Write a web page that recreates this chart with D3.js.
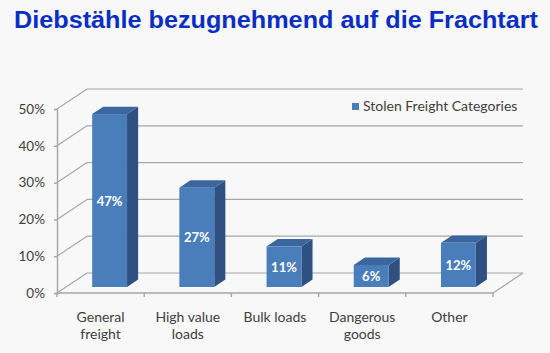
<!DOCTYPE html>
<html lang="de">

<head>
	<title>Diebstähle bezugnehmend auf die Frachtart</title>
	<meta charset="utf-8">
	<script src="https://d3js.org/d3.v7.min.js"></script>
	<style>
		body { margin: 0; background: #f8f8f8; }
		svg { display: block; }
	</style>
</head>

<body>
	<div id="container1"></div>
	<script>
		// Data
		const categories = ["General freight", "High value loads", "Bulk loads", "Dangerous goods", "Other"];
		const categoryLines = [["General", "freight"], ["High value", "loads"], ["Bulk loads"], ["Dangerous", "goods"], ["Other"]];
		const values = [47, 27, 11, 6, 12];
		const yTicks = [0, 10, 20, 30, 40, 50];
		const seriesName = "Stolen Freight Categories";

		// Chart dimensions
		const width = 550;
		const height = 353;
		const depth = { dx: 30, dy: -20 };
		const barStart = 0.3, barDepth = 0.37;

		const svg = d3.select("#container1")
			.append("svg")
			.attr("width", width)
			.attr("height", height);

		svg.append("rect").attr("width", width).attr("height", height).attr("fill", "#f8f8f8");

		// Title
		svg.append("text")
			.attr("x", 14)
			.attr("y", 28)
			.attr("textLength", 524)
			.attr("lengthAdjust", "spacingAndGlyphs")
			.style("font-family", "'Liberation Sans', Arial, sans-serif")
			.style("font-weight", "bold")
			.style("font-size", "23px")
			.attr("fill", "#0a2ec4")
			.text("Diebstähle bezugnehmend auf die Frachtart");

		// Scales
		const xScale = d3.scaleBand()
			.domain(categories)
			.range([57, 493]);

		const yScale = d3.scaleLinear()
			.domain([0, 50])
			.range([293, 109]);

		const grid = "#a6a6a6";
		const x0 = xScale.range()[0], x1 = xScale.range()[1];

		// Back wall gridlines and left wall diagonals
		svg.append("g")
			.selectAll("line.back")
			.data(yTicks)
			.join("line")
			.attr("x1", x0 + depth.dx)
			.attr("x2", x1 + depth.dx)
			.attr("y1", d => yScale(d) + depth.dy)
			.attr("y2", d => yScale(d) + depth.dy)
			.attr("stroke", grid)
			.attr("stroke-width", 1.2);

		svg.append("g")
			.selectAll("line")
			.data(yTicks)
			.join("line")
			.attr("x1", x0)
			.attr("x2", x0 + depth.dx)
			.attr("y1", d => yScale(d))
			.attr("y2", d => yScale(d) + depth.dy)
			.attr("stroke", grid)
			.attr("stroke-width", 1.2);

		// Floor right edge
		svg.append("line")
			.attr("x1", x1).attr("y1", yScale(0))
			.attr("x2", x1 + depth.dx).attr("y2", yScale(0) + depth.dy)
			.attr("stroke", grid).attr("stroke-width", 1.2);

		// Axes
		svg.append("g")
			.attr("transform", `translate(${x0},0)`)
			.call(d3.axisLeft(yScale).tickValues(yTicks).tickSize(3).tickPadding(9).tickFormat(d => d + "%"))
			.call(g => g.selectAll(".domain, .tick line").attr("stroke", grid).attr("stroke-width", 1.4))
			.call(g => g.selectAll(".tick text")
				.attr("fill", "#404040")
				.style("font-family", "Lato, sans-serif")
				.style("font-size", "13.5px"));

		const xAxis = svg.append("g")
			.attr("transform", `translate(0,${yScale(0)})`)
			.call(d3.axisBottom(xScale).tickSize(4).tickFormat(""));
		xAxis.selectAll(".domain").attr("stroke", grid).attr("stroke-width", 1.4).attr("d", `M${x0},0H${x1}`);
		xAxis.selectAll(".tick").remove();
		xAxis.selectAll("line.sep")
			.data(d3.range(categories.length + 1))
			.join("line")
			.attr("x1", i => x0 + i * xScale.step())
			.attr("x2", i => x0 + i * xScale.step())
			.attr("y1", 0)
			.attr("y2", 4)
			.attr("stroke", grid)
			.attr("stroke-width", 1.4);

		// Category labels
		svg.append("g")
			.selectAll("text")
			.data(categories)
			.join("text")
			.attr("x", d => xScale(d) + xScale.bandwidth() / 2)
			.attr("y", 322)
			.attr("text-anchor", "middle")
			.attr("fill", "#404040")
			.style("font-family", "Lato, sans-serif")
			.style("font-size", "14px")
			.selectAll("tspan")
			.data((d, i) => categoryLines[i])
			.join("tspan")
			.attr("x", function () { return this.parentNode.getAttribute("x"); })
			.attr("dy", (d, i) => i === 0 ? 0 : 17)
			.text(d => d);

		// Bars
		const bw = xScale.bandwidth() * 0.4;
		const off = { x: depth.dx * barStart, y: depth.dy * barStart };
		const bd = { x: depth.dx * barDepth, y: depth.dy * barDepth };

		const bars = svg.append("g")
			.selectAll("g")
			.data(values.map((v, i) => ({ name: categories[i], value: v })))
			.join("g")
			.attr("transform", d => `translate(${xScale(d.name) + xScale.bandwidth() / 2 - bw / 2 + off.x},${off.y})`);

		// side
		bars.append("path")
			.attr("fill", "#2f5080")
			.attr("d", d => {
				const t = yScale(d.value), b = yScale(0);
				return `M${bw},${b}L${bw + bd.x},${b + bd.y}L${bw + bd.x},${t + bd.y}L${bw},${t}Z`;
			});

		// top
		bars.append("path")
			.attr("fill", "#3b669e")
			.attr("d", d => {
				const t = yScale(d.value);
				return `M0,${t}L${bd.x},${t + bd.y}L${bw + bd.x},${t + bd.y}L${bw},${t}Z`;
			});

		// front
		bars.append("rect")
			.attr("fill", "#4a7ebb")
			.attr("x", 0)
			.attr("width", bw)
			.attr("y", d => yScale(d.value))
			.attr("height", d => yScale(0) - yScale(d.value));

		// value labels
		bars.append("text")
			.attr("x", bw / 2)
			.attr("y", d => (yScale(d.value) + yScale(0)) / 2 + 5)
			.attr("text-anchor", "middle")
			.attr("fill", "#ffffff")
			.style("font-family", "Lato, sans-serif")
			.style("font-weight", "bold")
			.style("font-size", "13px")
			.text(d => d.value + "%");

		// Legend
		const legend = svg.append("g").attr("transform", "translate(352,103)");
		legend.append("rect").attr("width", 7).attr("height", 7).attr("fill", "#4a7ebb");
		legend.append("text")
			.attr("x", 11)
			.attr("y", 7.5)
			.attr("fill", "#404040")
			.style("font-family", "Lato, sans-serif")
			.style("font-size", "14px")
			.text(seriesName);
	</script>
</body>

</html>
